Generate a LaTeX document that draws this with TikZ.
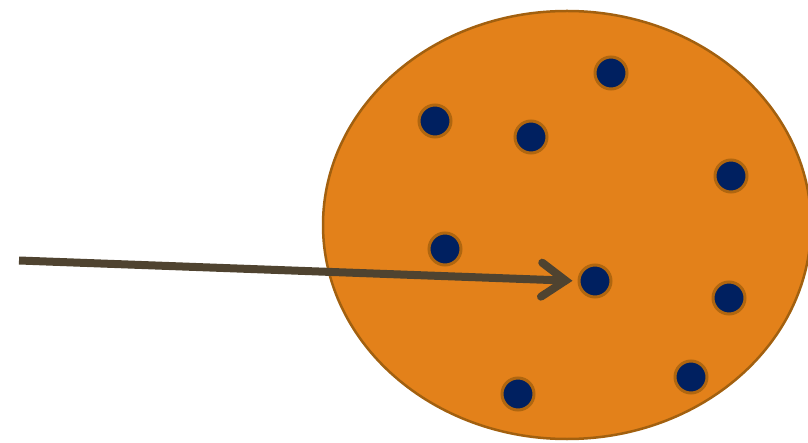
\documentclass[tikz,border=0pt]{standalone}
\usepackage{tikz}
\usetikzlibrary{arrows.meta,positioning}
\definecolor{blobfill}{HTML}{E3811A}
\definecolor{blobedge}{HTML}{A2600F}
\definecolor{dotfill}{HTML}{002060}
\definecolor{dotedge}{HTML}{B0660F}
\definecolor{arrowcol}{HTML}{4F4330}
\tikzset{
  blob/.style={
    fill = blobfill,
    draw = blobedge,
    line width = 2.5pt
  },
  member/.style={
    shape = circle,
    inner sep = 0pt,
    minimum size = 32pt,
    fill = dotfill,
    draw = dotedge,
    line width = 3pt
  },
  pointer/.style={
    draw = arrowcol,
    line width = 8pt,
    -{Straight Barb[length=24pt,width=34pt,line cap=round]},
    shorten > = 5pt
  }
}
\begin{document}
\begin{tikzpicture}[x=1pt,y=1pt]
    \useasboundingbox (0,0) rectangle (808,442);
    \clip (0,0) rectangle (808,442);
    \draw[blob] (567,217) ellipse [x radius=244, y radius=214];
    \foreach \n/\x/\y in {a/611/369, b/435/321, c/531/305, d/731/266, e/445/193,
                          f/595/161, g/729/144, h/691/65, i/518/48}{
    \node[member] (\n) at (\x,\y) {};}
    \coordinate (start) at (19,181.5);
    \draw[pointer] (start) -- (f.west);
\end{tikzpicture}
\end{document}
